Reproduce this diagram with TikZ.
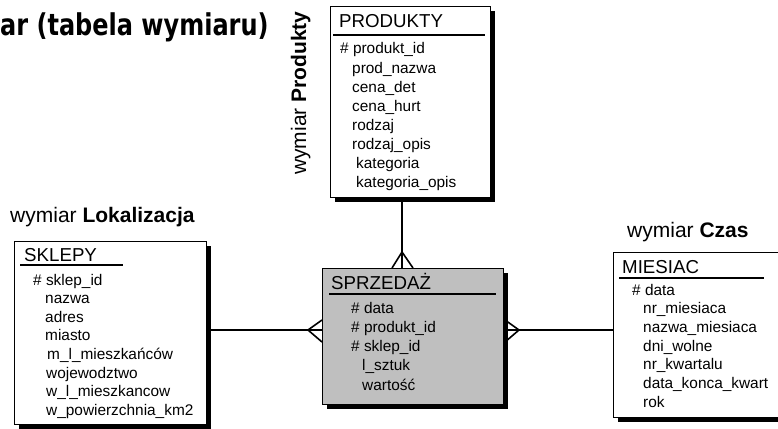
\documentclass[tikz,border=0pt]{standalone}
\usepackage{fontspec}
\setmainfont{Liberation Sans}
\newfontfamily\titlefont[FakeStretch=0.8]{DejaVu Sans}
\usetikzlibrary{shadows,calc}
\tikzstyle{entity}=[draw,line width=1.3pt,fill=white,anchor=north west,inner sep=0pt,
  drop shadow={shadow xshift=4pt,shadow yshift=-4pt,fill=black,opacity=1}]
\tikzstyle{header}=[anchor=base west,inner sep=0pt,font=\fontsize{18.7}{20}\selectfont]
\tikzstyle{field}=[anchor=base west,inner sep=0pt,font=\fontsize{15.4}{17}\selectfont]
\tikzstyle{dimension}=[anchor=base west,inner sep=0pt,font=\fontsize{21}{23}\selectfont]
\tikzstyle{rule}=[line width=1.6pt]
\tikzstyle{link}=[draw,line width=1.6pt]

\begin{document}
\begin{tikzpicture}[x=1pt,y=-1pt]
\useasboundingbox (0,0) rectangle (778,428);

% Title (cut at the left)
\node[anchor=base west,inner sep=0pt,font=\titlefont\bfseries\fontsize{30}{32}\selectfont] (title) at (0,36) {ar (tabela wymiaru)};

% The four tables
\node[entity,minimum width=160pt,minimum height=191pt] (produkty) at (330,6) {};
\node[entity,fill=black!25,minimum width=181pt,minimum height=136pt] (sprzedaz) at (322,268) {};
\node[entity,minimum width=192pt,minimum height=183pt] (sklepy) at (14,241) {};
\node[entity,minimum width=180pt,minimum height=165pt] (miesiac) at (613,252) {};

% Dimension labels
\node[dimension,rotate=90] (lprodukty) at (306,175) {wymiar \textbf{Produkty}};
\node[dimension] (lsklepy) at (10,222) {wymiar \textbf{Lokalizacja}};
\node[dimension] (lczas) at (627,237) {wymiar \textbf{Czas}};

% Table headers
\node[header] (hprodukty) at (339,28) {PRODUKTY};
\draw[rule] (333,35) -- (485,35);
\node[header] (hsprzedaz) at (331,289) {SPRZEDAŻ};
\draw[rule] (329,294) -- (496,294);
\node[header] (hsklepy) at (24,261) {SKLEPY};
\draw[rule] (20,265) -- (123,265);
\node[header] (hmiesiac) at (622,273) {MIESIAC};
\draw[rule] (619,278) -- (764,278);

% Attributes
\foreach \name/\dx [count=\i from 0] in {\# produkt\_id/0, prod\_nazwa/12, cena\_det/12, cena\_hurt/12, rodzaj/12, rodzaj\_opis/12, kategoria/16, kategoria\_opis/16}
\node[field] at (340+\dx,54+19.1*\i) {\name};
\foreach \name/\dx [count=\i from 0] in {\# data/0, \# produkt\_id/0, \# sklep\_id/0, l\_sztuk/11, wartość/11}
\node[field] at (351+\dx,313+19.3*\i) {\name};
\foreach \name/\dx [count=\i from 0] in {\# sklep\_id/0, nazwa/12, adres/12, miasto/12, m\_l\_mieszkańców/14, wojewodztwo/13, w\_l\_mieszkancow/13, w\_powierzchnia\_km2/13}
\node[field] at (33+\dx,285+18.6*\i) {\name};
\foreach \name/\dx [count=\i from 0] in {\# data/0, nr\_miesiaca/11, nazwa\_miesiaca/11, dni\_wolne/11, nr\_kwartalu/11, data\_konca\_kwart/11, rok/11}
\node[field] at (632+\dx,295+18.7*\i) {\name};

% Relationships with crow's feet on the fact table
\coordinate (topcrow) at (402,252);
\coordinate (leftcrow) at (308,330);
\coordinate (rightcrow) at (519,330);
\path[link] (topcrow |- produkty.south) -- (topcrow |- sprzedaz.north);
\path[link] (392,268) -- (topcrow) -- (413,268);
\path[link] (leftcrow -| sklepy.east) -- (leftcrow -| sprzedaz.west);
\path[link] (322,320) -- (leftcrow) -- (322,342);
\path[link] (rightcrow -| sprzedaz.east) -- (rightcrow -| miesiac.west);
\path[link] (505,320) -- (rightcrow) -- (505,342);

\end{tikzpicture}
\end{document}
